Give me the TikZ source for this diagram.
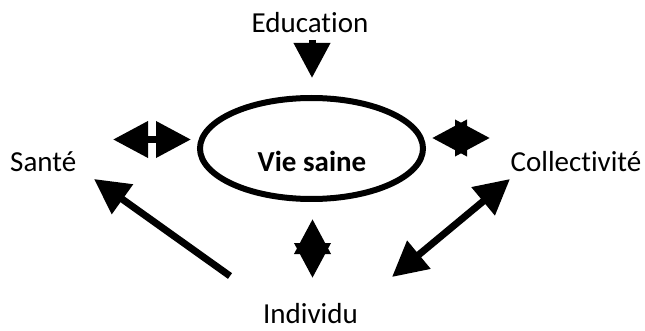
\documentclass[tikz,border=0pt]{standalone}
\usepackage{fontspec}
\setmainfont{Carlito}[Ligatures=NoCommon]
\usetikzlibrary{arrows.meta,shapes.geometric}
\tikzset{
  lbl/.style={inner sep=0pt, anchor=base, font=\fontsize{29}{35}\selectfont},
  dbl/.style={line width=7pt, {Triangle[length=35pt,width=35pt]}-{Triangle[length=35pt,width=35pt]}},
  sgl/.style={line width=7pt, -{Triangle[length=35pt,width=35pt]}},
  oval/.style={draw, ellipse, line width=6pt, minimum width=223pt, minimum height=101pt, inner sep=0pt}
}
\begin{document}
\begin{tikzpicture}[x=1pt,y=-1pt]
\useasboundingbox[fill=white] (0,0) rectangle (645,331);
% nodes
\node[oval] (vie) at (311.5,148.5) {};
\node[lbl] (viet) at (312,172) {\bfseries Vie saine};
\node[lbl] (edu) at (310,33) {Education};
\node[lbl, anchor=base west] (sante) at (10,172) {Santé};
\node[lbl] (coll) at (576,172) {Collectivité};
\node[lbl] (ind) at (310.5,323) {Individu};
% arrow end points
\coordinate (eduA) at (312,40);
\coordinate (eduB) at (312,78);
\coordinate (sL) at (113,139.5);
\coordinate (sR) at (191,139.5);
\coordinate (cL) at (432,138);
\coordinate (cR) at (490,138);
\coordinate (iT) at (312.5,219);
\coordinate (iB) at (312.5,278);
\coordinate (dlTail) at (230,276);
\coordinate (dlTip) at (94,179);
\coordinate (drB) at (392,277);
\coordinate (drT) at (510,179);
% arrows
\draw[sgl] (eduA) -- (eduB);
\draw[dbl] (sL) -- (sR);
\draw[dbl] (cL) -- (cR);
\draw[dbl] (iT) -- (iB);
\draw[sgl] (dlTail) -- (dlTip);
\draw[dbl] (drB) -- (drT);
\end{tikzpicture}
\end{document}
